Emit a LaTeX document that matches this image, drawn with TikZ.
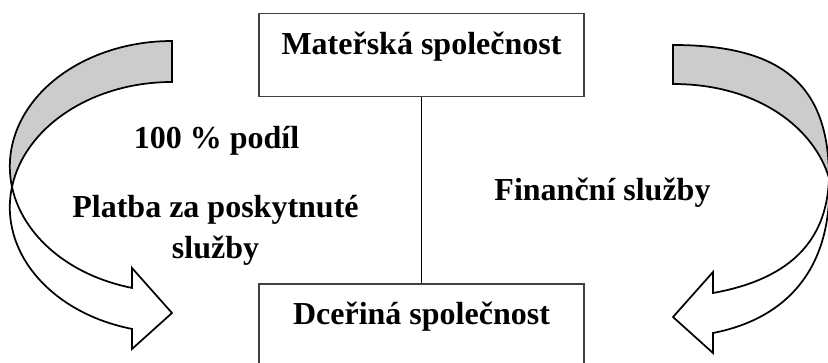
\documentclass[tikz,border=0pt]{standalone}
\usepackage{fontspec}
\setmainfont{Liberation Serif}
\usetikzlibrary{positioning}
\begin{document}
\begin{tikzpicture}[
  x=0.75pt,y=-0.75pt,
  firm/.style={draw=black!75,line width=1pt,minimum width=243.75pt,inner sep=0pt,text height=30.75pt,text depth=31.5pt,font=\bfseries\fontsize{24}{31.5}\selectfont},
  lbl/.style={anchor=base,align=center,font=\bfseries\fontsize{24}{31.5}\selectfont},
  band/.style={draw,line width=1.3pt,line join=miter},
  back/.style={band,fill=black!20},
  front/.style={band,fill=white}
]
\useasboundingbox (0,0) rectangle (828,363);
\path[back] (172,41) arc[start angle=270,end angle=170.59,x radius=162.2,y radius=125.4]
  arc[start angle=189.41,end angle=270,x radius=162.2,y radius=125.4] -- cycle;
\path[front] (12,186.9) arc[start angle=189.41,end angle=104.28,x radius=162.2,y radius=125.4]
  -- (132,349) -- (172,313) -- (132,268) -- (132,287.9)
  arc[start angle=104.28,end angle=170.59,x radius=162.2,y radius=125.4] -- cycle;
\path[back] (673,45) .. controls (782,45) and (829,85) .. (829,178)
  .. controls (815,130) and (760,84) .. (673,84) -- cycle;
\path[front] (829,178) .. controls (833,265) and (790,318) .. (713,333)
  -- (713,353) -- (673,317) -- (713,272) -- (713,293)
  .. controls (785,280) and (827,245) .. (829,178) -- cycle;
\node[firm,anchor=north] (parent) at (421.5,13) {Mateřská společnost};
\node[firm,below=139.5pt of parent] (child) {Dceřiná společnost};
\draw[line width=1pt] (parent) -- (child);
\node[lbl] (share) at (216.5,149) {100 \% podíl};
\node[lbl] (payment) at (215.5,259) {Platba za poskytnuté\\služby};
\node[lbl] (finance) at (602.5,201) {Finanční služby};
\end{tikzpicture}
\end{document}
